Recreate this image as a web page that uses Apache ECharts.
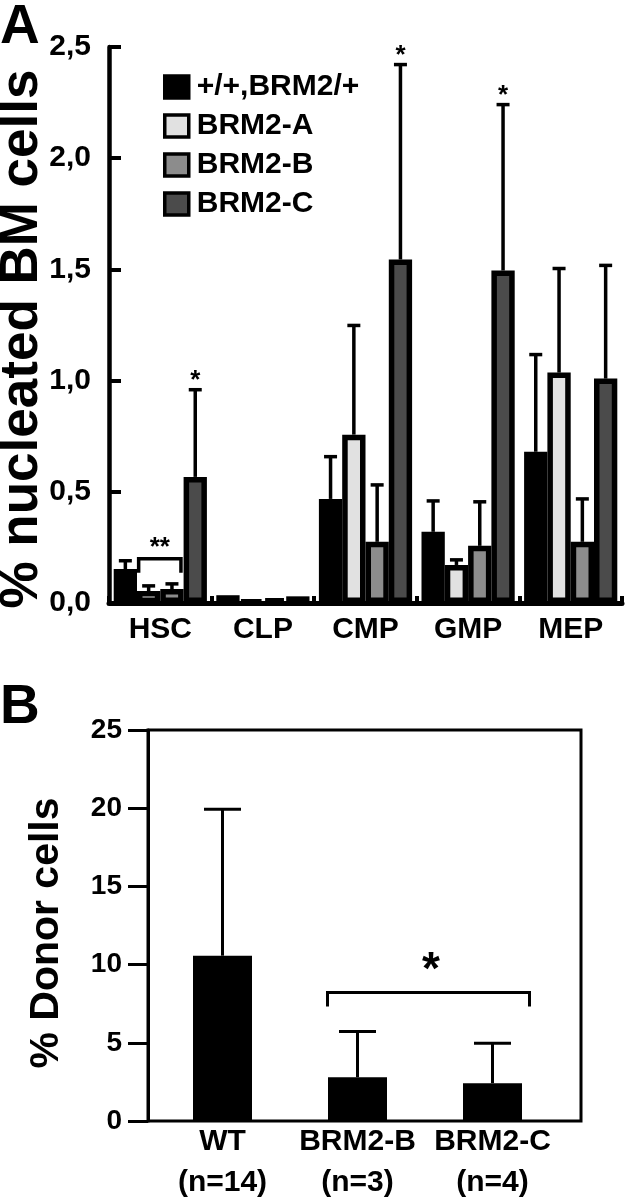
<!DOCTYPE html>
<html><head><meta charset="utf-8">
<script src="https://cdn.jsdelivr.net/npm/echarts@6/dist/echarts.min.js"></script>
<style>html,body{margin:0;padding:0;background:#fff;}#c{width:626px;height:1200px;}</style>
</head><body><div id="c"></div>
<script>
// ---------- Panel A data ----------
const categoriesA = ['HSC', 'CLP', 'CMP', 'GMP', 'MEP'];
const seriesNamesA = ['+/+,BRM2/+', 'BRM2-A', 'BRM2-B', 'BRM2-C'];
const meanWT = [0.153, 0.035, 0.468, 0.320, 0.680];
const sdWT   = [0.037, 0,     0.190, 0.139, 0.437];
const meanA  = [0.054, 0.012, 0.757, 0.171, 1.036];
const sdA    = [0.023, 0,     0.491, 0.023, 0.468];
const meanB  = [0.063, 0.020, 0.275, 0.257, 0.275];
const sdB    = [0.023, 0,     0.256, 0.198, 0.193];
const meanC  = [0.567, 0.030, 1.545, 1.495, 1.009];
const sdC    = [0.392, 0,     0.876, 0.746, 0.509];
const sigC   = ['*', '', '*', '*', ''];
const bracketA = { category: 'HSC', from: 'BRM2-A', to: 'BRM2-B', label: '**' };
const tickLabelsA = ['0,0', '0,5', '1,0', '1,5', '2,0', '2,5'];

// ---------- Panel B data ----------
const categoriesB = ['WT', 'BRM2-B', 'BRM2-C'];
const groupSizesB = ['(n=14)', '(n=3)', '(n=4)'];
const meanDonor = [10.57, 2.80, 2.42];
const sdDonor   = [9.37, 2.93, 2.55];
const bracketB = { from: 'BRM2-B', to: 'BRM2-C', label: '*' };
const tickLabelsB = ['0', '5', '10', '15', '20', '25'];

// ---------- build ----------
const FONT = 'Liberation Sans, Arial, Helvetica, sans-serif';
const fills = ['#000000', '#e1e1e1', '#8c8c8c', '#4b4b4b'];
const meansA = [meanWT, meanA, meanB, meanC];
const sdsA = [sdWT, sdA, sdB, sdC];
const BAR_W_A = 23.3;
const BAR_W_B = 59;

const barSeriesA = seriesNamesA.map((name, s) => ({
  name, type: 'bar', xAxisIndex: 0, yAxisIndex: 0,
  data: meansA[s], barWidth: BAR_W_A, barGap: '0%',
  itemStyle: { color: fills[s], borderColor: '#000', borderWidth: 5.5 },
  z: 2
}));

const errDataA = [];
for (let s = 0; s < 4; s++) for (let c = 0; c < categoriesA.length; c++)
  errDataA.push([c, meansA[s][c], s, sdsA[s][c]]);

function offA(s) { return (s - (seriesNamesA.length - 1) / 2) * BAR_W_A; }

const errSeriesA = {
  type: 'custom', xAxisIndex: 0, yAxisIndex: 0, z: 5, silent: true,
  encode: { x: 0, y: 1 },
  data: errDataA,
  renderItem(params, api) {
    const c = api.value(0), m = api.value(1), s = api.value(2), sd = api.value(3);
    if (!(sd > 0)) return null;
    const pm = api.coord([c, m]), pt = api.coord([c, m + sd]);
    const x = pm[0] + offA(s);
    return { type: 'group', children: [
      { type: 'line', shape: { x1: x, y1: pm[1], x2: x, y2: pt[1] }, style: { stroke: '#000', lineWidth: 3.5 } },
      { type: 'line', shape: { x1: x - 6.5, y1: pt[1], x2: x + 6.5, y2: pt[1] }, style: { stroke: '#000', lineWidth: 3.5 } }
    ]};
  }
};

const starItemsA = [];
sigC.forEach((lab, c) => { if (lab) starItemsA.push({ c, s: 3, top: meanC[c] + sdC[c], label: lab }); });
const annoSeriesA = {
  type: 'custom', xAxisIndex: 0, yAxisIndex: 0, z: 6, silent: true,
  encode: { x: 0, y: 1 },
  data: starItemsA.map(d => [d.c, d.top]).concat([[categoriesA.indexOf(bracketA.category), 0]]),
  renderItem(params, api) {
    const i = params.dataIndex;
    if (i < starItemsA.length) {
      const d = starItemsA[i];
      const p = api.coord([d.c, d.top]);
      return { type: 'text', x: p[0] + offA(d.s), y: p[1] + 4,
        style: { text: d.label, fill: '#000', font: 'bold 26px ' + FONT, textAlign: 'center', textVerticalAlign: 'bottom' } };
    }
    const c = categoriesA.indexOf(bracketA.category);
    const s1 = seriesNamesA.indexOf(bracketA.from), s2 = seriesNamesA.indexOf(bracketA.to);
    const top = Math.max(meansA[s1][c] + sdsA[s1][c], meansA[s2][c] + sdsA[s2][c]);
    const p = api.coord([c, top]);
    const x1 = p[0] + offA(s1) - 10, x2 = p[0] + offA(s2) + 9;
    const yh = p[1] - 25, yl = p[1] - 11;
    return { type: 'group', children: [
      { type: 'polyline', shape: { points: [[x1, yl], [x1, yh], [x2, yh], [x2, yl]] }, style: { stroke: '#000', lineWidth: 3.5, fill: null } },
      { type: 'text', x: (x1 + x2) / 2, y: yh + 2, style: { text: bracketA.label, fill: '#000', font: 'bold 26px ' + FONT, textAlign: 'center', textVerticalAlign: 'bottom' } }
    ]};
  }
};

// Panel B series
const barSeriesB = {
  type: 'bar', xAxisIndex: 2, yAxisIndex: 2, data: meanDonor, barWidth: BAR_W_B,
  itemStyle: { color: '#000' }, z: 2
};
const errSeriesB = {
  type: 'custom', xAxisIndex: 2, yAxisIndex: 2, z: 5, silent: true,
  encode: { x: 0, y: 1 },
  data: meanDonor.map((m, i) => [i, m, sdDonor[i]]),
  renderItem(params, api) {
    const c = api.value(0), m = api.value(1), sd = api.value(2);
    const pm = api.coord([c, m]), pt = api.coord([c, m + sd]);
    const x = pm[0];
    return { type: 'group', children: [
      { type: 'line', shape: { x1: x, y1: pm[1], x2: x, y2: pt[1] }, style: { stroke: '#000', lineWidth: 3 } },
      { type: 'line', shape: { x1: x - 18.5, y1: pt[1], x2: x + 18.5, y2: pt[1] }, style: { stroke: '#000', lineWidth: 3 } }
    ]};
  }
};
const annoSeriesB = {
  type: 'custom', xAxisIndex: 2, yAxisIndex: 2, z: 6, silent: true,
  encode: { x: 0, y: 1 },
  data: [[categoriesB.indexOf(bracketB.from), 0]],
  renderItem(params, api) {
    const i1 = categoriesB.indexOf(bracketB.from), i2 = categoriesB.indexOf(bracketB.to);
    const top = Math.max(meanDonor[i1] + sdDonor[i1], meanDonor[i2] + sdDonor[i2]);
    const p1 = api.coord([i1, top]), p2 = api.coord([i2, top]);
    const x1 = p1[0] - 30, x2 = p2[0] + 37;
    const yh = p1[1] - 39, yl = yh + 14;
    return { type: 'group', children: [
      { type: 'polyline', shape: { points: [[x1, yl], [x1, yh], [x2, yh], [x2, yl]] }, style: { stroke: '#000', lineWidth: 3, fill: null } },
      { type: 'text', x: (x1 + x2) / 2 + 2.5, y: yh + 2, style: { text: bracketB.label, fill: '#000', font: 'bold 46px ' + FONT, textAlign: 'center', textVerticalAlign: 'bottom' } }
    ]};
  }
};

const labelStyle = { color: '#000', fontFamily: FONT, fontWeight: 'bold' };

const option = {
  animation: false,
  backgroundColor: '#fff',
  textStyle: { fontFamily: FONT },
  grid: [
    { left: 109, right: 4, top: 47, bottom: 597, outerBoundsMode: 'none', containLabel: false },
    { left: 148, right: 45, top: 730, bottom: 79, show: true, borderColor: '#000', borderWidth: 3, backgroundColor: 'transparent', outerBoundsMode: 'none', containLabel: false },
    { left: 155, width: 405, top: 730, bottom: 79, outerBoundsMode: 'none', containLabel: false }
  ],
  xAxis: [
    { gridIndex: 0, type: 'category', data: categoriesA,
      axisLine: { lineStyle: { color: '#000', width: 5 } },
      axisTick: { show: true, inside: true, length: 7, lineStyle: { color: '#000', width: 4 } },
      axisLabel: Object.assign({ fontSize: 30, margin: 12, interval: 0 }, labelStyle) },
    { gridIndex: 1, type: 'category', data: categoriesB, show: false },
    { gridIndex: 2, type: 'category', data: categoriesB,
      axisLine: { show: false }, axisTick: { show: false },
      axisLabel: Object.assign({ fontSize: 30, lineHeight: 41, margin: 0, interval: 0, hideOverlap: false,
        formatter: (v, i) => v + '\n' + groupSizesB[i] }, labelStyle) }
  ],
  yAxis: [
    { gridIndex: 0, type: 'value', min: 0, max: 2.5, interval: 0.5, splitLine: { show: false },
      axisLine: { show: true, lineStyle: { color: '#000', width: 4.5 } },
      axisTick: { show: true, inside: true, length: 12, lineStyle: { color: '#000', width: 4 } },
      axisLabel: Object.assign({ fontSize: 30, margin: 18,
        formatter: v => tickLabelsA[Math.round(v / 0.5)] }, labelStyle) },
    { gridIndex: 1, type: 'value', min: 0, max: 25, interval: 5, splitLine: { show: false },
      axisLine: { show: true, lineStyle: { color: '#000', width: 3 } },
      axisTick: { show: true, inside: false, length: 20, lineStyle: { color: '#000', width: 3 } },
      axisLabel: Object.assign({ fontSize: 28, margin: 26,
        formatter: v => tickLabelsB[Math.round(v / 5)] }, labelStyle) },
    { gridIndex: 2, type: 'value', min: 0, max: 25, interval: 5, show: false }
  ],
  legend: {
    data: seriesNamesA, orient: 'vertical', left: 158, top: 67,
    itemWidth: 24, itemHeight: 22, itemGap: 9, icon: 'rect', selectedMode: false,
    itemStyle: { borderColor: '#000', borderWidth: 3.5 },
    textStyle: { fontSize: 30, fontWeight: 'bold', color: '#000', fontFamily: FONT, padding: [0, 0, 0, 3] }
  },
  graphic: [
    { type: 'text', left: 0, top: 0, style: { text: 'A', font: 'bold 55px ' + FONT, fill: '#000' } },
    { type: 'text', left: 0, top: 680, style: { text: 'B', font: 'bold 55px ' + FONT, fill: '#000' } },
    { type: 'text', x: 22, y: 339, rotation: Math.PI / 2,
      style: { text: '% nucleated BM cells', font: 'bold 53px ' + FONT, fill: '#000', textAlign: 'center', textVerticalAlign: 'middle' } },
    { type: 'text', x: 47, y: 933, rotation: Math.PI / 2,
      style: { text: '% Donor cells', font: 'bold 41px ' + FONT, fill: '#000', textAlign: 'center', textVerticalAlign: 'middle' } }
  ],
  series: barSeriesA.concat([errSeriesA, annoSeriesA, barSeriesB, errSeriesB, annoSeriesB])
};

const chart = echarts.init(document.getElementById('c'), null, { renderer: 'canvas', width: 626, height: 1200 });
chart.setOption(option);
</script>
</body></html>
